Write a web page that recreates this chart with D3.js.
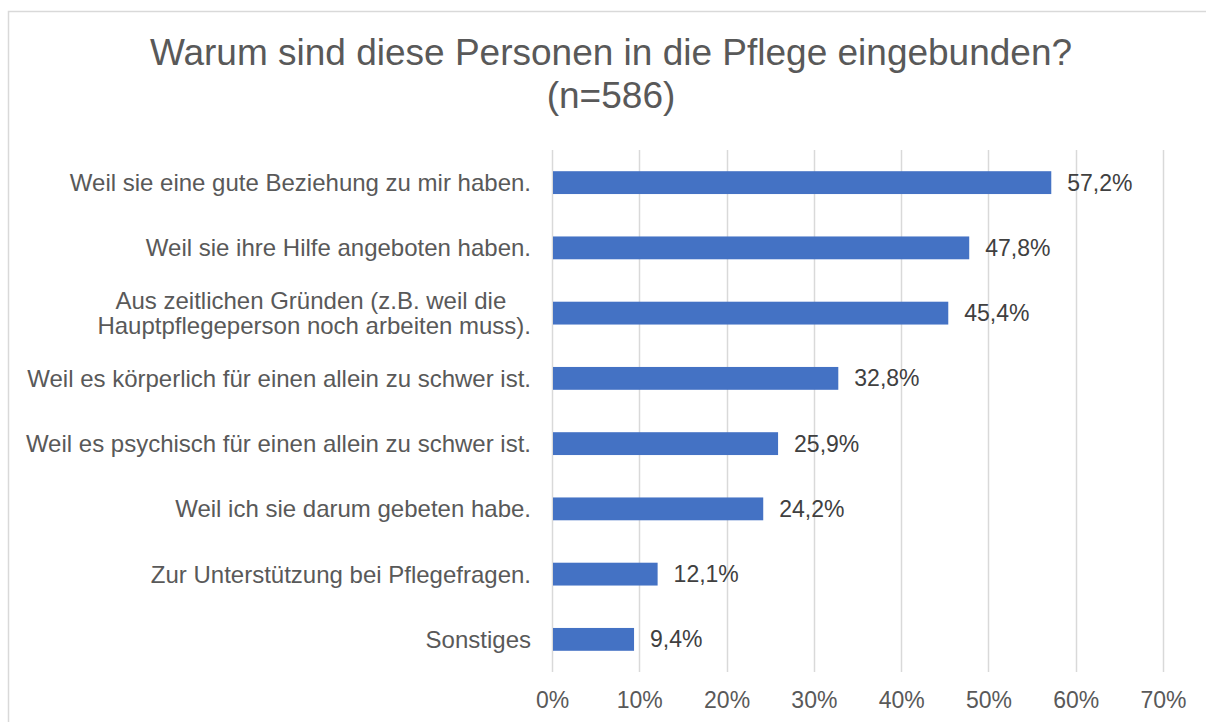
<!DOCTYPE html>
<html>
<head>
<meta charset="utf-8">
<script src="https://cdn.jsdelivr.net/npm/d3@7"></script>
<style>
  body { margin: 0; background: #fff; }
  text { font-family: "Liberation Sans", Arial, sans-serif; }
</style>
</head>
<body>
<div id="chart"></div>
<script>
var svgWidth = 1206;
var svgHeight = 722;

var margin = { top: 150, right: 43, bottom: 50, left: 552 };
var width = svgWidth - margin.left - margin.right;
var height = svgHeight - margin.top - margin.bottom;

// data
var titleLines = ["Warum sind diese Personen in die Pflege eingebunden?", "(n=586)"];
var categories = [
  ["Weil sie eine gute Beziehung zu mir haben."],
  ["Weil sie ihre Hilfe angeboten haben."],
  ["Aus zeitlichen Gründen (z.B. weil die ", "Hauptpflegeperson noch arbeiten muss)."],
  ["Weil es körperlich für einen allein zu schwer ist."],
  ["Weil es psychisch für einen allein zu schwer ist."],
  ["Weil ich sie darum gebeten habe."],
  ["Zur Unterstützung bei Pflegefragen."],
  ["Sonstiges"]
];
var values = [57.2, 47.8, 45.4, 32.8, 25.9, 24.2, 12.1, 9.4];
var ticks = [0, 10, 20, 30, 40, 50, 60, 70];

var svg = d3.select("#chart")
  .append("svg")
  .attr("width", svgWidth)
  .attr("height", svgHeight);

// outer frame (runs off the right and bottom edges)
svg.append("rect")
  .attr("x", 8.5)
  .attr("y", 11.5)
  .attr("width", 1300)
  .attr("height", 800)
  .attr("fill", "none")
  .attr("stroke", "#d9d9d9")
  .attr("stroke-width", 1.5);

svg.append("g")
  .selectAll("text")
  .data(titleLines)
  .enter()
  .append("text")
  .attr("x", 611)
  .attr("y", (d, i) => 65 + i * 43)
  .attr("text-anchor", "middle")
  .style("font-size", "37px")
  .style("fill", "#595959")
  .text(d => d);

var chartGroup = svg.append("g")
  .attr("transform", "translate(" + margin.left + "," + margin.top + ")");

var x = d3.scaleLinear().domain([0, 70]).range([0, width]);
var y = d3.scaleBand()
  .domain(d3.range(categories.length))
  .range([0, height])
  .paddingInner(0.65)
  .paddingOuter(0.325);

// gridlines
chartGroup.append("g")
  .selectAll("line")
  .data(ticks)
  .enter()
  .append("line")
  .attr("x1", d => Math.round(x(d)) + 0.5)
  .attr("x2", d => Math.round(x(d)) + 0.5)
  .attr("y1", 0)
  .attr("y2", height)
  .attr("stroke", "#d9d9d9")
  .attr("stroke-width", 1.5);

// x axis labels
var xAxis = chartGroup.append("g")
  .attr("transform", `translate(0, ${height})`)
  .call(d3.axisBottom(x).tickValues(ticks).tickFormat(d => d + "%").tickSize(0).tickPadding(20));
xAxis.select(".domain").remove();
xAxis.selectAll("text")
  .style("font-size", "23px")
  .style("fill", "#595959")
  .style("font-family", "'Liberation Sans', Arial, sans-serif");

chartGroup.append("g")
  .selectAll("rect")
  .data(values)
  .enter()
  .append("rect")
  .attr("x", x(0) + 1)
  .attr("y", (d, i) => y(i))
  .attr("width", d => x(d) - x(0) - 1)
  .attr("height", y.bandwidth())
  .attr("fill", "#4472c4");

chartGroup.append("g")
  .selectAll("text")
  .data(values)
  .enter()
  .append("text")
  .attr("x", d => x(d) + 16)
  .attr("y", (d, i) => y(i) + y.bandwidth() / 2 + 8)
  .style("font-size", "23px")
  .style("fill", "#404040")
  .text(d => d.toFixed(1).replace(".", ",") + "%");

// category labels, wrapped ones centred on their block
var labels = chartGroup.append("g")
  .selectAll("g")
  .data(categories)
  .enter()
  .append("g");

labels.each(function(lines, i) {
  var g = d3.select(this);
  var cy = y(i) + y.bandwidth() / 2;
  var lh = 25;
  var texts = g.selectAll("text")
    .data(lines)
    .enter()
    .append("text")
    .attr("y", (d, j) => cy + 8.5 + (j - (lines.length - 1) / 2) * lh)
    .style("font-size", "24px")
    .style("fill", "#595959")
    .style("white-space", "pre")
    .text(d => d);
  var widths = [];
  texts.each(function() { widths.push(this.getComputedTextLength()); });
  var maxW = d3.max(widths);
  texts.attr("x", -21 - maxW / 2).attr("text-anchor", "middle");
});
</script>
</body>
</html>
